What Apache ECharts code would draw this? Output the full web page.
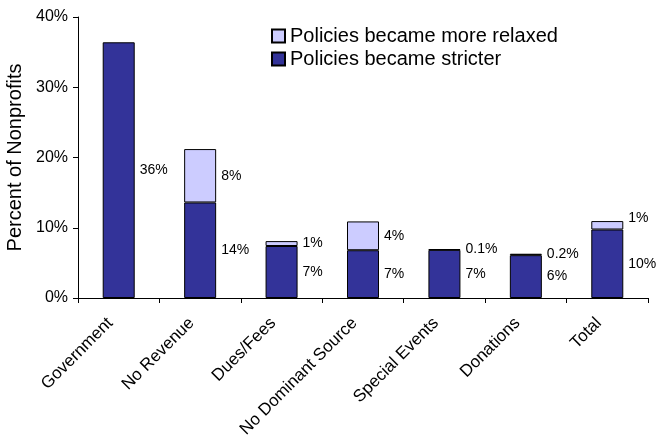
<!DOCTYPE html>
<html>
<head>
<meta charset="utf-8">
<script src="https://cdn.jsdelivr.net/npm/echarts@6/dist/echarts.min.js"></script>
<style>
  html, body { margin: 0; padding: 0; background: #fff; }
  #chart { width: 656px; height: 440px; }
</style>
</head>
<body>
<div id="chart"></div>
<script>
// Share of nonprofits whose policies changed, by main revenue source
const categories = ['Government', 'No Revenue', 'Dues/Fees', 'No Dominant Source', 'Special Events', 'Donations', 'Total'];
const stricter = [36.4, 13.6, 7.4, 6.8, 6.85, 6.1, 9.75];
const relaxed = [null, 7.6, 0.7, 4.1, 0.1, 0.2, 1.2];
const yTicks = { min: 0, max: 40, interval: 10 };

const FONT = '"Liberation Sans", Arial, sans-serif';

function pctLabel(p) {
  const v = p.value;
  if (v == null || v === 0) return '';
  return (v < 0.5 ? v.toFixed(1) : Math.round(v)) + '%';
}

const labelStyle = {
  show: true,
  position: 'right',
  distance: 5,
  color: '#000',
  fontSize: 14,
  fontFamily: FONT,
  formatter: pctLabel
};

// the small "Total" relaxed label sits a little above its sliver
const relaxedData = relaxed.map((v, i) =>
  i === categories.length - 1 ? { value: v, label: { offset: [0, -7] } } : v);

const chart = echarts.init(document.getElementById('chart'), null, { renderer: 'canvas' });
chart.setOption({
  backgroundColor: '#fff',
  animation: false,
  textStyle: { fontFamily: FONT },
  grid: { left: 78, right: 8, top: 17, bottom: 142, outerBoundsMode: 'none', containLabel: false },
  legend: {
    orient: 'vertical',
    left: 266,
    top: 21,
    itemWidth: 13,
    itemHeight: 13,
    itemGap: 3,
    icon: 'rect',
    textStyle: { fontSize: 20, color: '#000', fontFamily: FONT },
    data: ['Policies became more relaxed', 'Policies became stricter']
  },
  xAxis: {
    type: 'category',
    data: categories,
    boundaryGap: true,
    axisLine: { lineStyle: { color: '#000', width: 1 } },
    axisTick: { show: true, length: 5, lineStyle: { color: '#000' } },
    axisLabel: {
      rotate: 45,
      margin: 14,
      padding: [0, 12, 0, 0],
      interval: 0,
      color: '#000',
      fontSize: 17,
      fontFamily: FONT
    }
  },
  yAxis: {
    type: 'value',
    min: yTicks.min,
    max: yTicks.max,
    interval: yTicks.interval,
    name: 'Percent of Nonprofits',
    nameLocation: 'middle',
    nameGap: 41,
    nameTextStyle: { fontSize: 20, color: '#000', fontFamily: FONT },
    axisLine: { show: true, lineStyle: { color: '#000', width: 1 } },
    axisTick: { show: true, length: 5, lineStyle: { color: '#000' } },
    splitLine: { show: false },
    axisLabel: {
      formatter: '{value}%',
      color: '#000',
      fontSize: 16,
      margin: 10,
      fontFamily: FONT
    }
  },
  series: [
    {
      name: 'Policies became stricter',
      type: 'bar',
      stack: 'change',
      barWidth: 32,
      data: stricter,
      itemStyle: { color: '#333399', borderColor: '#000', borderWidth: 1 },
      label: labelStyle
    },
    {
      name: 'Policies became more relaxed',
      type: 'bar',
      stack: 'change',
      barWidth: 32,
      data: relaxedData,
      itemStyle: { color: '#CCCCFF', borderColor: '#000', borderWidth: 1 },
      label: labelStyle
    }
  ]
});
</script>
</body>
</html>
